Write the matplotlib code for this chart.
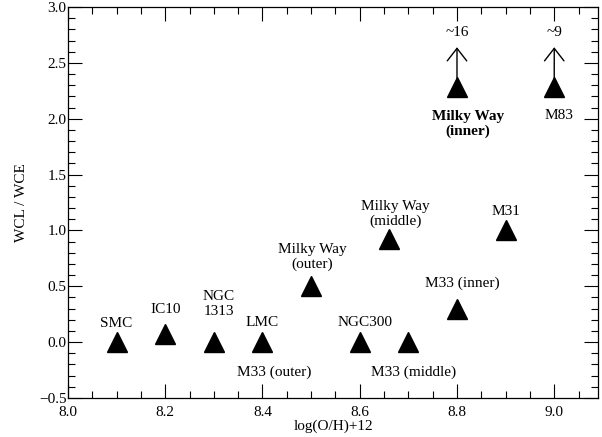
import matplotlib
matplotlib.use('Agg')
import matplotlib.pyplot as plt
from matplotlib.ticker import MultipleLocator

# galaxies: metallicity vs WCL/WCE ratio
GAL_X = [8.1, 8.2, 8.3, 8.4, 8.5, 8.6, 8.66, 8.7, 8.8, 8.9, 8.8, 9.0]
GAL_Y = [0.0, 0.07, 0.0, 0.0, 0.5, 0.0, 0.92, 0.0, 0.3, 1.0, 2.28, 2.28]

# lower limits drawn as upward arrows
LIMIT_X = [8.8, 9.0]
LIMIT_Y0 = [2.28, 2.28]
LIMIT_Y1 = [2.64, 2.64]
LIMIT_TXT = ['~16', '~9']
LIMIT_TXT_Y = [2.77, 2.77]

# label text, position (x, y), bold flag
LABELS = ['SMC', 'IC10', 'NGC\n1313', 'LMC', 'M33 (outer)',
          'Milky Way\n(outer)', 'NGC300', 'Milky Way\n(middle)',
          'M33 (middle)', 'M33 (inner)', 'M31',
          'Milky Way\n(inner)', 'M83']
LABEL_X = [8.1, 8.2, 8.31, 8.40, 8.425, 8.503, 8.61, 8.674,
           8.71, 8.81, 8.90, 8.823, 9.01]
LABEL_Y = [0.17, 0.29, 0.34, 0.18, -0.27, 0.76, 0.18, 1.15,
           -0.27, 0.53, 1.17, 1.95, 2.03]
LABEL_BOLD = [False] * 11 + [True, False]

XLIM = (8.0, 9.09)
YLIM = (-0.5, 3.0)

plt.rcParams['font.family'] = ['Liberation Serif', 'DejaVu Serif']
plt.rcParams['font.size'] = 11
plt.rcParams['mathtext.fontset'] = 'stix'

fig = plt.figure(figsize=(6.02, 4.37), dpi=100)
ax = fig.add_axes([68 / 602, 1 - 398 / 437, 530 / 602, 391 / 437])

ax.plot(GAL_X, GAL_Y, linestyle='none', marker='^', markersize=14,
        color='black')

for x, y0, y1, t, ty in zip(LIMIT_X, LIMIT_Y0, LIMIT_Y1, LIMIT_TXT,
                            LIMIT_TXT_Y):
    ax.annotate('', xy=(x, y1), xytext=(x, y0),
                arrowprops=dict(arrowstyle='->,head_length=0.9,head_width=0.7',
                                lw=1.0, color='black', shrinkA=0, shrinkB=0,
                                mutation_scale=10))
    ax.text(x, ty, t, ha='center', va='center')

for lab, x, y, b in zip(LABELS, LABEL_X, LABEL_Y, LABEL_BOLD):
    ax.text(x, y, lab, ha='center', va='center', linespacing=1.15,
            fontweight='bold' if b else 'normal')

ax.set_xlim(*XLIM)
ax.set_ylim(*YLIM)
ax.xaxis.set_major_locator(MultipleLocator(0.2))
ax.xaxis.set_minor_locator(MultipleLocator(0.05))
ax.yaxis.set_major_locator(MultipleLocator(0.5))
ax.yaxis.set_minor_locator(MultipleLocator(0.1))
ax.tick_params(which='both', direction='in', top=True, right=True,
               width=0.8)
ax.tick_params(axis='x', pad=6)
ax.tick_params(axis='y', pad=1)
ax.tick_params(which='major', length=10)
ax.tick_params(which='minor', length=5)
for s in ax.spines.values():
    s.set_linewidth(0.9)

ax.set_xlabel('log(O/H)+12', labelpad=0)
ax.set_ylabel('WCL / WCE', labelpad=8)

fig.savefig('out.png', dpi=100)
